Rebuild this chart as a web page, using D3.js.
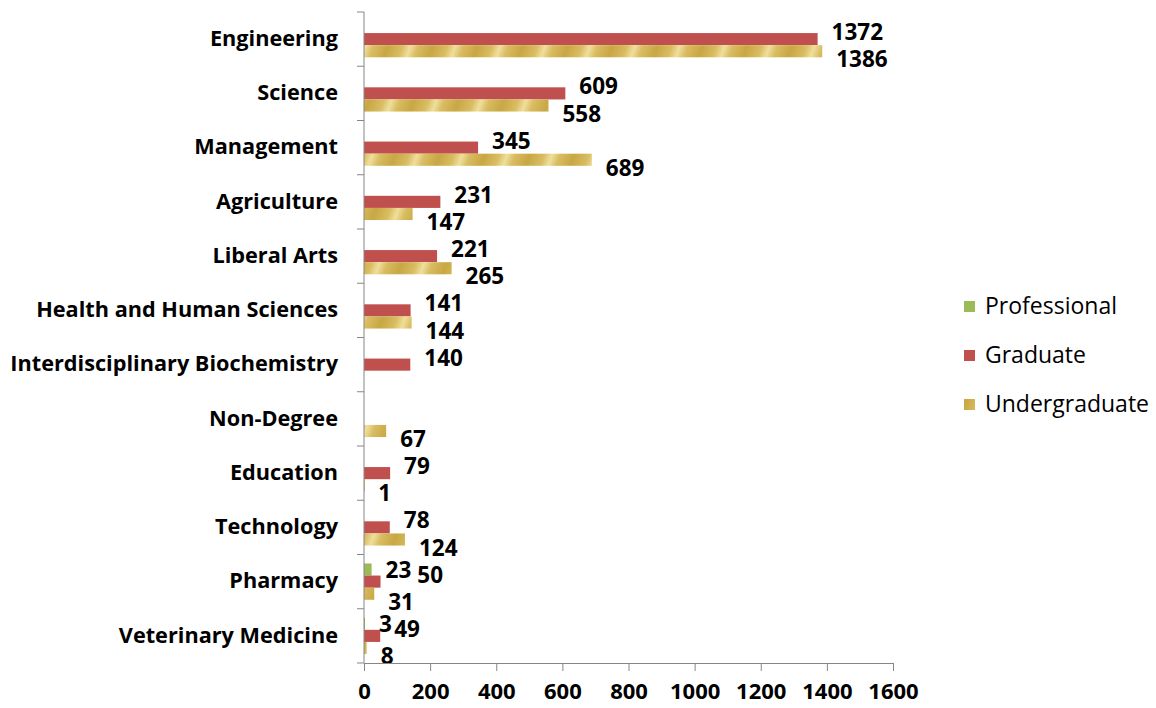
<!DOCTYPE html>
<html>
<head>
<meta charset="utf-8">
<script src="https://cdn.jsdelivr.net/npm/d3@7"></script>
<style>
  body { margin: 0; background: #fff; }
  text { font-family: "Open Sans", Lato, sans-serif; }
</style>
</head>
<body>
<div id="chart"></div>
<script>
// data
const categories = ["Engineering", "Science", "Management", "Agriculture", "Liberal Arts",
  "Health and Human Sciences", "Interdisciplinary Biochemistry", "Non-Degree", "Education",
  "Technology", "Pharmacy", "Veterinary Medicine"];
const professional = [null, null, null, null, null, null, null, null, null, null, 23, 3];
const graduate = [1372, 609, 345, 231, 221, 141, 140, null, 79, 78, 50, 49];
const undergraduate = [1386, 558, 689, 147, 265, 144, null, 67, 1, 124, 31, 8];
const seriesNames = ["Professional", "Graduate", "Undergraduate"];
const xTicks = [0, 200, 400, 600, 800, 1000, 1200, 1400, 1600];

const width = 1156, height = 708;
const margin = {top: 12, right: 263, bottom: 45, left: 364};

const svg = d3.select("#chart").append("svg")
    .attr("width", width)
    .attr("height", height);

// gold striped fill for undergraduate bars
const defs = svg.append("defs");
const grad = defs.append("linearGradient")
    .attr("id", "goldStripe")
    .attr("gradientUnits", "userSpaceOnUse")
    .attr("x1", 0).attr("y1", 0).attr("x2", 20).attr("y2", 7)
    .attr("spreadMethod", "reflect");
grad.append("stop").attr("offset", "0%").attr("stop-color", "#c8a744");
grad.append("stop").attr("offset", "65%").attr("stop-color", "#d9bd62");
grad.append("stop").attr("offset", "100%").attr("stop-color", "#efdf9c");

const x = d3.scaleLinear()
    .domain([0, 1600])
    .range([margin.left, width - margin.right]);

const y = d3.scaleBand()
    .domain(categories)
    .range([margin.top, height - margin.bottom]);

const sub = d3.scaleBand()
    .domain(seriesNames)
    .range([y.bandwidth() * 0.165, y.bandwidth() * 0.835]);

const colors = {Professional: "#9bbb59", Graduate: "#c0504d", Undergraduate: "url(#goldStripe)"};
const labelShift = {Professional: 0, Graduate: -7, Undergraduate: 8};

const rows = [];
categories.forEach((c, i) => {
  [professional, graduate, undergraduate].forEach((arr, j) => {
    if (arr[i] != null) rows.push({cat: c, series: seriesNames[j], value: arr[i]});
  });
});

// bars
svg.append("g").selectAll("rect")
  .data(rows)
  .join("rect")
    .attr("x", x(0))
    .attr("y", d => y(d.cat) + sub(d.series))
    .attr("width", d => Math.max(x(d.value) - x(0), 0.8))
    .attr("height", sub.bandwidth())
    .attr("fill", d => colors[d.series]);

// value labels, nudged right when they would collide with the previous one in the same row
const labels = svg.append("g").selectAll("text")
  .data(rows)
  .join("text")
    .attr("x", d => x(d.value) + 14)
    .attr("y", d => y(d.cat) + sub(d.series) + sub.bandwidth() / 2 + labelShift[d.series])
    .attr("dy", "0.36em")
    .attr("font-size", 22.5)
    .attr("font-weight", "bold")
    .attr("fill", "#000")
    .text(d => d.value);

let prev = null;
labels.each(function(d) {
  const b = this.getBBox();
  if (prev && prev.cat === d.cat) {
    const overlapY = b.y < prev.box.y + prev.box.height - 10 && b.y + b.height - 10 > prev.box.y;
    const overlapX = b.x < prev.box.x + prev.box.width && b.x + b.width > prev.box.x;
    if (overlapX && overlapY) {
      d3.select(this).attr("x", prev.box.x + prev.box.width + 6);
    }
  }
  prev = {cat: d.cat, box: this.getBBox()};
});

// x axis
const xAxis = svg.append("g")
    .attr("transform", `translate(0,${height - margin.bottom})`)
    .call(d3.axisBottom(x).tickValues(xTicks).tickFormat(d3.format("d"))
      .tickSize(8).tickPadding(12).tickSizeOuter(0));
xAxis.select(".domain").attr("stroke", "#868686");
xAxis.selectAll(".tick line").attr("stroke", "#868686");
xAxis.selectAll(".tick text")
    .attr("font-size", 22)
    .attr("font-weight", "bold")
    .attr("fill", "#000");

// y axis: line with ticks at category boundaries
const yAxis = svg.append("g");
yAxis.append("line")
    .attr("x1", x(0)).attr("x2", x(0))
    .attr("y1", margin.top).attr("y2", height - margin.bottom)
    .attr("stroke", "#868686");
yAxis.selectAll(".btick")
  .data(categories.concat(["end"]))
  .join("line")
    .attr("class", "btick")
    .attr("x1", x(0) - 7).attr("x2", x(0))
    .attr("y1", (d, i) => margin.top + i * y.step())
    .attr("y2", (d, i) => margin.top + i * y.step())
    .attr("stroke", "#868686");
yAxis.selectAll("text")
  .data(categories)
  .join("text")
    .attr("x", x(0) - 26)
    .attr("y", d => y(d) + y.bandwidth() / 2 - 1)
    .attr("text-anchor", "end")
    .attr("dy", "0.36em")
    .attr("font-size", 21.7)
    .attr("font-weight", "bold")
    .attr("fill", "#000")
    .text(d => d);

// legend
const legend = svg.append("g").attr("transform", "translate(964,306)");
const legendFill = {Professional: "#9bbb59", Graduate: "#c0504d", Undergraduate: "url(#goldStripe)"};
seriesNames.forEach((s, i) => {
  const g = legend.append("g").attr("transform", `translate(0,${i * 49})`);
  g.append("rect").attr("x", 0).attr("y", -5).attr("width", 11).attr("height", 11)
      .attr("fill", legendFill[s]);
  g.append("text").attr("x", 21).attr("y", 0).attr("dy", "0.36em")
      .attr("font-size", 23).attr("fill", "#000").text(s);
});
</script>
</body>
</html>
